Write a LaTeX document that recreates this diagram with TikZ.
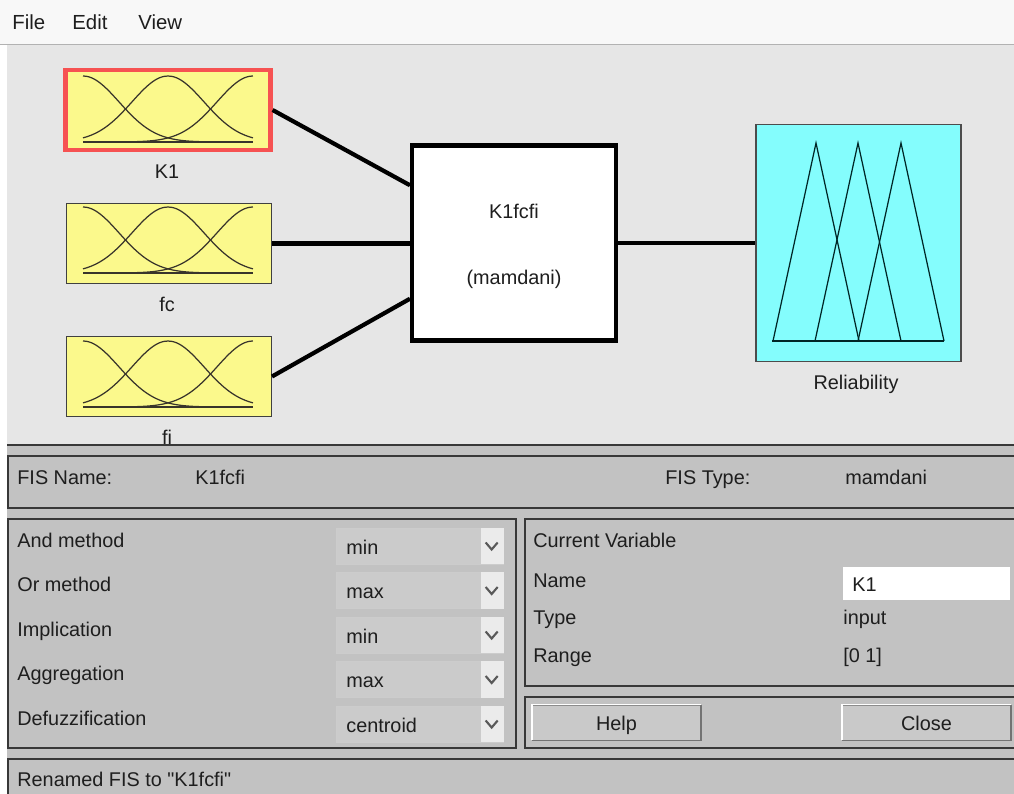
\documentclass[tikz,border=0pt]{standalone}
\usepackage{fontspec}
\setmainfont{Liberation Sans}[Ligatures=TeXOff]
\usetikzlibrary{calc}
\definecolor{menubg}{HTML}{F8F8F8}
\definecolor{upbg}{HTML}{E6E6E6}
\definecolor{lowbg}{HTML}{C2C2C2}
\definecolor{linecol}{HTML}{383838}
\definecolor{mfyellow}{HTML}{FBF98C}
\definecolor{selred}{HTML}{F65252}
\definecolor{mfcyan}{HTML}{84FDFD}
\definecolor{ddbody}{HTML}{CBCBCB}
\definecolor{ddarrow}{HTML}{EBEBEB}
\definecolor{btnfill}{HTML}{C9C9C9}
\definecolor{txtcol}{HTML}{1E1E1E}
\tikzset{
 txt/.style={anchor=base west,inner sep=0pt,text=txtcol,font=\fontsize{11.3}{13.5}\selectfont},
 lab/.style={txt,anchor=base},
 inbox/.style={draw=black!75,line width=0.6pt,fill=mfyellow,minimum width=4.1cm,minimum height=1.6cm,inner sep=0pt},
 mf/.style={draw=black!80!olive,line width=0.7pt},
 wire/.style={line width=2.4pt},
 panelline/.style={draw=linecol,line width=1.1pt},
 dropbox/.style={txt,anchor=west,fill=ddbody,draw=black!20,text width=2.94cm,inner xsep=0.2cm,minimum height=0.72cm,text height=0.36cm,text depth=0.04cm},
 btn/.style={txt,anchor=center,fill=btnfill,draw=black!45,minimum width=3.36cm,minimum height=0.7cm,text height=0.34cm,text depth=0.04cm}
}
\begin{document}
\begin{tikzpicture}[x=0.02cm,y=-0.02cm]
\useasboundingbox (0,0) rectangle (1014,794);
\fill[white] (0,0) rectangle (1014,794);
\fill[menubg] (0,0) rectangle (1014,44);
\draw[black!30,line width=0.8pt] (0,44.5)--(1014,44.5);
\fill[upbg] (7,45) rectangle (1014,445);
\node[txt,font=\fontsize{11.6}{14}\selectfont] (mfile) at (12,30) {File};
\node[txt,font=\fontsize{11.6}{14}\selectfont] (medit) at (72,30) {Edit};
\node[txt,font=\fontsize{11.6}{14}\selectfont] (mview) at (138,30) {View};
\node[inbox,draw=selred,line width=2.4pt] (k1) at (168,110) {};
\node[inbox] (fc) at (169,243.5) {};
\node[inbox] (fi) at (169,376.5) {};
\foreach \yb in {142,273,407}{
  \draw[mf] (83,\yb)--(253,\yb);
  \foreach \c in {0,0.5,1}
    \draw[mf] plot[domain=0:1,samples=41,smooth] ({83+170*\x},{\yb-66*exp(-(\x-\c)*(\x-\c)/0.0901)});
}
\node[lab] (k1lab) at (167,178) {K1};
\node[lab] (fclab) at (167,311) {fc};
\node[lab] (filab) at (167,444) {fi};
\node[draw,line width=2.3pt,fill=white,minimum width=4.08cm,minimum height=3.9cm,inner sep=0pt] (sys) at (514,243) {};
\node[lab] (sysname) at (514,218) {K1fcfi};
\node[lab] (systype) at (514,284) {(mamdani)};
\node[draw=black!70,line width=0.8pt,fill=mfcyan,minimum width=4.1cm,minimum height=4.74cm,inner sep=0pt] (rel) at (858.5,243) {};
\foreach \p in {816,858,901}
  \draw[mf,draw=black!70!teal] ({\p-43},341)--(\p,143)--({\p+43},341);
\draw[mf,draw=black!70!teal] (772,341)--(944,341);
\node[lab] (rellab) at (856,389) {Reliability};
\draw[wire] (k1.east) -- ($(sys.north west)!0.21!(sys.south west)$);
\draw[wire] (fc.east) -- (fc.east -| sys.west);
\draw[wire] (fi.east) -- ($(sys.north west)!0.78!(sys.south west)$);
\draw[wire] (sys.east) -- (rel.west);
\fill[lowbg] (7,445) rectangle (1014,794);
\draw[panelline,line width=1.6pt] (7,445)--(1014,445);
\draw[panelline] (1014,456)--(8,456)--(8,508)--(1014,508);
\node[txt] (fisname) at (17,484) {FIS Name:};
\node[txt] (fisval) at (195,484) {K1fcfi};
\node[txt] (fistype) at (665,484) {FIS Type:};
\node[txt] (fistypeval) at (845,484) {mamdani};
\draw[panelline] (8,519) rectangle (516,748);
\foreach \lab/\val [count=\i from 0] in {And method/min,Or method/max,Implication/min,Aggregation/max,Defuzzification/centroid}{
  \node[txt] (m\i) at (17,{547+44.5*\i}) {\lab};
  \node[dropbox] (dd\i) at (336,{546+44.5*\i}) {\val};
  \fill[ddarrow] ([xshift=-0.46cm]dd\i.north east) rectangle (dd\i.south east);
  \draw[black!65,line width=1.2pt] ([xshift=-0.36cm,yshift=0.07cm]dd\i.east) -- ([xshift=-0.24cm,yshift=-0.07cm]dd\i.east) -- ([xshift=-0.12cm,yshift=0.07cm]dd\i.east);
}
\draw[panelline] (1014,519)--(525,519)--(525,686)--(1014,686);
\node[txt] (curvar) at (533,547) {Current Variable};
\node[txt] (vname) at (533,587) {Name};
\node[txt] (vtype) at (533,624) {Type};
\node[txt] (vrange) at (533,662) {Range};
\node[txt,anchor=west,fill=white,text width=2.98cm,inner xsep=0.18cm,minimum height=0.66cm,text height=0.34cm,text depth=0.04cm] (namefield) at (843,583.5) {K1};
\node[txt] (vtypeval) at (843,624) {input};
\node[txt] (vrangeval) at (843,662) {[0 1]};
\draw[panelline] (1014,697)--(525,697)--(525,748)--(1014,748);
\node[btn] (help) at (616.5,722.5) {Help};
\node[btn] (close) at (926.5,722.5) {Close};
\foreach \b in {help,close}{
  \draw[white,line width=0.9pt] (\b.south west)--(\b.north west)--(\b.north east);
  \draw[black!55,line width=0.9pt] (\b.south west)--(\b.south east)--(\b.north east);
}
\draw[panelline] (1014,759)--(8,759)--(8,794);
\node[txt] (status) at (17,786) {Renamed FIS to "K1fcfi"};
\end{tikzpicture}
\end{document}
